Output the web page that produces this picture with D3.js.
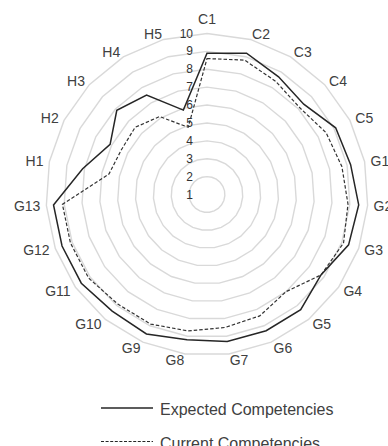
<!DOCTYPE html>
<html>
<head>
<meta charset="utf-8">
<script src="https://cdn.jsdelivr.net/npm/d3@7"></script>
<style>
  html, body { margin: 0; padding: 0; background: #fff; }
  svg { display: block; font-family: "Liberation Sans", Arial, sans-serif; }
</style>
</head>
<body>
<svg id="chart" width="388" height="446"></svg>
<script>
const categories = ["C1","C2","C3","C4","C5","G1","G2","G3","G4","G5","G6","G7","G8","G9","G10","G11","G12","G13","H1","H2","H3","H4","H5"];
const expected = [8.9, 9.2, 8.7, 8.4, 9.1, 9.2, 9.5, 9.4, 8.8, 9.3, 9.3, 9.3, 9.2, 9.5, 9.4, 9.6, 9.6, 9.6, 8.1, 7.1, 7.9, 7.5, 5.9];
const current  = [8.6, 8.8, 8.4, 8.1, 8.5, 8.7, 8.9, 9.1, 8.8, 8.0, 8.4, 8.5, 8.7, 8.9, 8.9, 9.1, 9.1, 9.1, 6.6, 6.4, 6.5, 6.1, 4.9];
const tickValues = [1,2,3,4,5,6,7,8,9,10];
const seriesNames = ["Expected Competencies", "Current Competencies"];

const svg = d3.select("#chart");
const cx = 207, cy = 194.5, R = 161;
const n = categories.length;
const r = d3.scaleLinear().domain([1, 10]).range([0, R]);
const angle = d3.scaleLinear().domain([0, n]).range([0, 2 * Math.PI]);

// grid rings (polygons)
const ringLine = d3.lineRadial().angle((d, i) => angle(i)).radius(d => r(d)).curve(d3.curveLinearClosed);
const g = svg.append("g").attr("transform", `translate(${cx},${cy})`);
g.selectAll("path.ring")
  .data(tickValues.filter(v => v > 1))
  .join("path")
  .attr("class", "ring")
  .attr("d", v => ringLine(categories.map(() => v)))
  .attr("fill", "none")
  .attr("stroke", "#d9d9d9")
  .attr("stroke-width", 1.4);

// tick labels
g.selectAll("text.tick")
  .data(tickValues)
  .join("text")
  .attr("class", "tick")
  .attr("x", -14)
  .attr("y", v => -r(v))
  .attr("text-anchor", "end")
  .attr("dominant-baseline", "central")
  .attr("font-size", 12)
  .attr("fill", "#333")
  .text(v => v);

// series
const seriesLine = d3.lineRadial().angle((d, i) => angle(i)).radius(d => r(d)).curve(d3.curveLinearClosed);
g.append("path")
  .attr("d", seriesLine(current))
  .attr("fill", "none")
  .attr("stroke", "#333")
  .attr("stroke-width", 1.2)
  .attr("stroke-dasharray", "3.5,2");
g.append("path")
  .attr("d", seriesLine(expected))
  .attr("fill", "none")
  .attr("stroke", "#262626")
  .attr("stroke-width", 1.5);

// category labels
const d = 167;
g.selectAll("text.cat")
  .data(categories)
  .join("text")
  .attr("class", "cat")
  .each(function(c, i) {
    const a = angle(i), s = Math.sin(a), co = Math.cos(a);
    const el = d3.select(this);
    let anchor = "middle", y = -d * co;
    if (s > 0.05) anchor = "start";
    else if (s < -0.05) anchor = "end";
    else y = -d * co - co * 9;
    el.attr("x", d * s).attr("y", y).attr("text-anchor", anchor);
  })
  .attr("dominant-baseline", "central")
  .attr("font-size", 14)
  .attr("fill", "#404040")
  .text(c => c);

// legend
const legend = svg.append("g").attr("transform", "translate(101,408)");
const items = legend.selectAll("g").data(seriesNames).join("g")
  .attr("transform", (s, i) => `translate(0,${i * 33.5})`);
items.append("line")
  .attr("x1", 0).attr("x2", 52).attr("y1", 0).attr("y2", 0)
  .attr("stroke", "#262626")
  .attr("stroke-width", (s, i) => i === 0 ? 1.5 : 1.2)
  .attr("stroke-dasharray", (s, i) => i === 0 ? null : "3,1.6");
items.append("text")
  .attr("x", 59).attr("y", 7)
  .attr("font-size", 16)
  .attr("fill", "#404040")
  .text(s => s);
</script>
</body>
</html>
